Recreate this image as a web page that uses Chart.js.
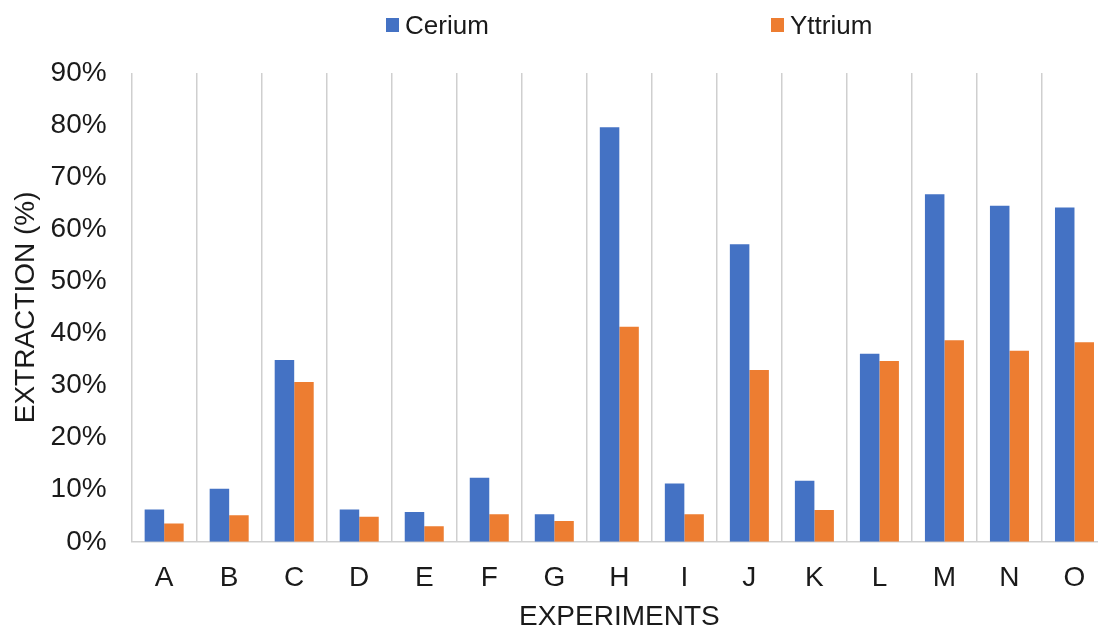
<!DOCTYPE html>
<html>
<head>
<meta charset="utf-8">
<script src="https://cdn.jsdelivr.net/npm/chart.js@4.4.1/dist/chart.umd.min.js"></script>
<style>
  html, body { margin: 0; padding: 0; background: #fff; overflow: hidden; width: 1098px; height: 627px; }
  #wrap { position: relative; width: 1110px; height: 627px; }
  #legend { position: absolute; left: 0; top: 0; width: 1098px; height: 50px; font-family: "Liberation Sans", Arial, sans-serif; }
  .lg-item { position: absolute; top: 10px; height: 30px; display: flex; align-items: center; font-size: 26px; color: #1a1a1a; }
  .lg-box { width: 13px; height: 14px; margin-right: 6px; }
</style>
</head>
<body>
<div id="wrap">
  <canvas id="c" width="1110" height="627"></canvas>
  <div id="legend"></div>
</div>
<script>
const categories = ["A","B","C","D","E","F","G","H","I","J","K","L","M","N","O"];
const cerium  = [6.2, 10.2, 34.9, 6.2, 5.7, 12.3, 5.3, 79.6, 11.2, 57.1, 11.7, 36.1, 66.7, 64.5, 64.2];
const yttrium = [3.5, 5.1, 30.7, 4.8, 3.0, 5.3, 4.0, 41.3, 5.3, 33.0, 6.1, 34.7, 38.7, 36.7, 38.3];
const seriesNames = ["Cerium", "Yttrium"];
const seriesColors = ["#4472C4", "#ED7D31"];
const yTickValues = [0,10,20,30,40,50,60,70,80,90];

const FONT = "'Liberation Sans', Arial, sans-serif";
const TXT = "#1a1a1a";

const data = {
  labels: categories,
  datasets: [
    { label: seriesNames[0], data: cerium, backgroundColor: seriesColors[0], borderWidth: 0 },
    { label: seriesNames[1], data: yttrium, backgroundColor: seriesColors[1], borderWidth: 0 }
  ]
};

const chart = new Chart(document.getElementById('c'), {
  type: 'bar',
  data,
  options: {
    responsive: false,
    animation: false,
    devicePixelRatio: 1,
    layout: { padding: { top: 73, right: 3, left: 0, bottom: -7 } },
    datasets: { bar: { categoryPercentage: 0.6, barPercentage: 1.0 } },
    plugins: { legend: { display: false }, tooltip: { enabled: false } },
    scales: {
      x: {
        offset: true,
        grid: { display: true, offset: true, color: '#cfcfcf', lineWidth: 1.5, drawTicks: false },
        border: { display: true, color: '#cfcfcf', width: 1.5 },
        ticks: { color: TXT, font: { family: FONT, size: 28 }, padding: 20 },
        title: { display: true, text: 'EXPERIMENTS', color: TXT, font: { family: FONT, size: 28 }, padding: { top: -15, bottom: 0 } }
      },
      y: {
        min: 0, max: 90,
        afterBuildTicks: (ax) => { ax.ticks = yTickValues.map(v => ({ value: v })); },
        grid: { display: false, drawTicks: false },
        border: { display: false },
        ticks: { color: TXT, font: { family: FONT, size: 28 }, padding: 25, callback: v => v + '%' },
        title: { display: true, text: 'EXTRACTION (%)', color: TXT, font: { family: FONT, size: 28 }, padding: { top: 9, bottom: -17 } }
      }
    }
  }
});

// HTML legend built from datasets
const legendPos = [386, 771];
const lg = document.getElementById('legend');
data.datasets.forEach((ds, i) => {
  const it = document.createElement('div');
  it.className = 'lg-item';
  it.style.left = legendPos[i] + 'px';
  const b = document.createElement('span');
  b.className = 'lg-box';
  b.style.background = ds.backgroundColor;
  const t = document.createElement('span');
  t.textContent = ds.label;
  it.appendChild(b); it.appendChild(t);
  lg.appendChild(it);
});
</script>
</body>
</html>
